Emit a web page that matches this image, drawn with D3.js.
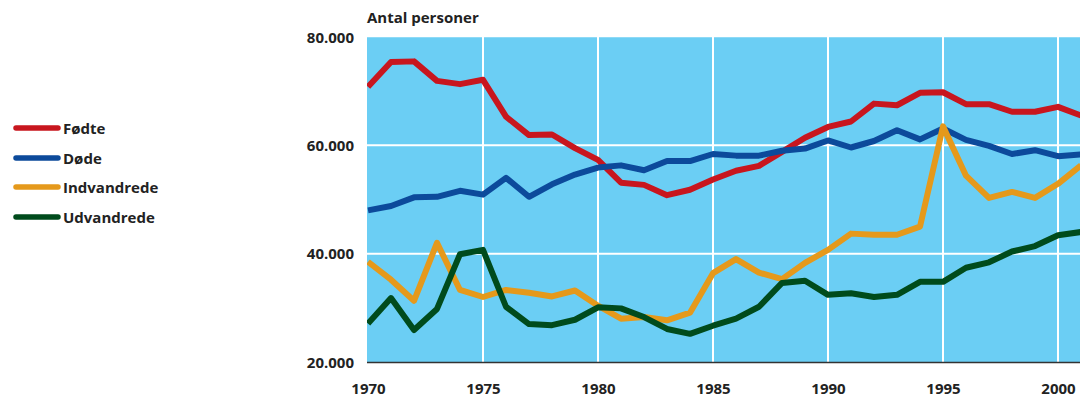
<!DOCTYPE html>
<html><head><meta charset="utf-8">
<script src="https://cdn.jsdelivr.net/npm/d3@7"></script>
<style>
body{margin:0;background:#fff;}
svg{display:block;}
text{font-family:"Open Sans",sans-serif;font-weight:700;fill:#222;}
</style></head>
<body><svg id="c" width="1080" height="401"></svg>
<script>
const years = d3.range(1970, 2002);
const fodte = [70800,75400,75500,71900,71300,72100,65300,61900,62000,59500,57300,53100,52700,50800,51800,53700,55300,56200,58800,61400,63400,64400,67700,67400,69700,69800,67600,67600,66200,66200,67100,65500];
const dode = [48000,48800,50400,50500,51600,50900,54000,50500,52800,54600,55900,56300,55400,57100,57100,58400,58100,58100,59000,59400,60900,59600,60800,62800,61100,63100,61000,59900,58400,59100,58000,58300];
const indvandrede = [38500,35200,31300,42000,33300,32000,33300,32800,32100,33200,30400,28000,28300,27700,29100,36400,39000,36500,35300,38300,40700,43700,43500,43500,45000,63500,54400,50300,51400,50300,52900,56300];
const udvandrede = [27100,31800,25900,29800,39900,40700,30200,27000,26800,27800,30100,29900,28300,26100,25200,26700,28000,30200,34600,35000,32400,32700,32000,32400,34800,34800,37400,38400,40400,41400,43400,44000];
const seriesNames = ["Fødte","Døde","Indvandrede","Udvandrede"];
const seriesColors = ["#c8161e","#0c4a9b","#e5991b","#004b1c"];
const yTicks = [20000,40000,60000,80000];
const xTicks = [1970,1975,1980,1985,1990,1995,2000];

const svg = d3.select("#c");
const x = d3.scaleLinear().domain([1970,2001]).range([368,1081]);
const y = d3.scaleLinear().domain([20000,80000]).range([362,37]);
const L = 367, R = 1080, T = 37, B = 362;

svg.append("rect").attr("x",L).attr("y",T).attr("width",R-L).attr("height",B-T).attr("fill","#6bcef4");
svg.append("line").attr("x1",L).attr("x2",R).attr("y1",T+0.5).attr("y2",T+0.5).attr("stroke","#8fdaf6").attr("stroke-width",1);

const fmt = v => d3.format(",")(v).replace(/,/g,".");
svg.append("g").selectAll("line").data(yTicks.filter(d=>d>20000&&d<80000)).join("line")
  .attr("x1",L).attr("x2",R).attr("y1",d=>y(d)).attr("y2",d=>y(d)).attr("stroke","#fff").attr("stroke-width",2);
svg.append("g").selectAll("line").data(xTicks.filter(d=>d>1970)).join("line")
  .attr("x1",d=>x(d)).attr("x2",d=>x(d)).attr("y1",T).attr("y2",B).attr("stroke","#fff").attr("stroke-width",2);

const yAxis = d3.axisLeft(y).tickValues(yTicks).tickFormat(fmt).tickSize(0).tickPadding(13);
const gy = svg.append("g").attr("transform",`translate(${L},0)`).call(yAxis);
gy.select(".domain").remove();
gy.selectAll("text").attr("font-size",15).attr("dy","0.35em");
const xAxis = d3.axisBottom(x).tickValues(xTicks).tickFormat(d3.format("d")).tickSize(0).tickPadding(21);
const gx = svg.append("g").attr("transform",`translate(0,${B})`).call(xAxis);
gx.select(".domain").remove();
gx.selectAll("text").attr("font-size",15);
svg.append("line").attr("x1",L).attr("x2",R).attr("y1",B+0.5).attr("y2",B+0.5).attr("stroke","#333").attr("stroke-width",1.5);

svg.append("text").attr("x",367).attr("y",23).attr("font-size",15).text("Antal personer");

svg.append("clipPath").attr("id","pc").append("rect").attr("x",L).attr("y",T).attr("width",R-L).attr("height",B-T);
const line = d3.line().x((d,i)=>x(years[i])).y(d=>y(d));
const data = [fodte,dode,indvandrede,udvandrede];
svg.append("g").attr("clip-path","url(#pc)").selectAll("path").data(data).join("path")
  .attr("d",line).attr("fill","none").attr("stroke",(d,i)=>seriesColors[i]).attr("stroke-width",6).attr("stroke-linejoin","round");

const lg = svg.append("g");
const ly = [128,158,187,217];
seriesNames.forEach((n,i)=>{
  lg.append("line").attr("x1",16).attr("x2",58).attr("y1",ly[i]).attr("y2",ly[i]).attr("stroke",seriesColors[i]).attr("stroke-width",5.5).attr("stroke-linecap","round");
  lg.append("text").attr("x",63).attr("y",ly[i]).attr("dy","0.4em").attr("font-size",15).text(n);
});
</script></body></html>
